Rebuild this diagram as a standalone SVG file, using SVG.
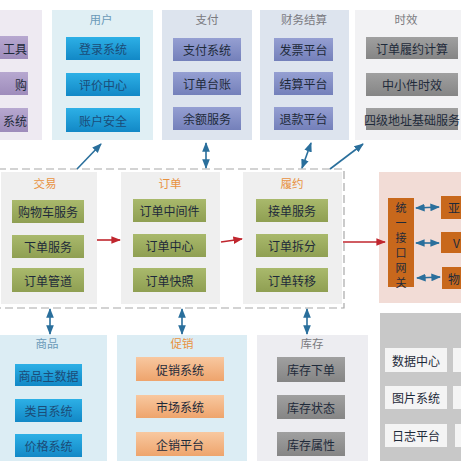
<svg xmlns="http://www.w3.org/2000/svg" width="461" height="461" viewBox="0 0 461 461">
<defs>
<linearGradient id="gBlue" x1="0" y1="0" x2="0" y2="1"><stop offset="0" stop-color="#2db0e6"/><stop offset="1" stop-color="#1288c6"/></linearGradient>
<linearGradient id="gPeri" x1="0" y1="0" x2="0" y2="1"><stop offset="0" stop-color="#959fd2"/><stop offset="1" stop-color="#7480ba"/></linearGradient>
<linearGradient id="gGray" x1="0" y1="0" x2="0" y2="1"><stop offset="0" stop-color="#a0a0a0"/><stop offset="1" stop-color="#858585"/></linearGradient>
<linearGradient id="gOlive" x1="0" y1="0" x2="0" y2="1"><stop offset="0" stop-color="#a9b96c"/><stop offset="1" stop-color="#8f9f52"/></linearGradient>
<linearGradient id="gPeach" x1="0" y1="0" x2="0" y2="1"><stop offset="0" stop-color="#f8c8a0"/><stop offset="1" stop-color="#eea46c"/></linearGradient>
<linearGradient id="gPurple" x1="0" y1="0" x2="0" y2="1"><stop offset="0" stop-color="#b7a8d0"/><stop offset="1" stop-color="#9e8cbb"/></linearGradient>
<marker id="aBlue" viewBox="0 0 10 10" refX="9" refY="5" markerWidth="6" markerHeight="6" orient="auto-start-reverse"><path d="M0,1 L10,5 L0,9 Z" fill="#2a6f9c"/></marker>
<marker id="aRed" viewBox="0 0 10 10" refX="9" refY="5" markerWidth="6" markerHeight="6" orient="auto"><path d="M0,1 L10,5 L0,9 Z" fill="#c0262e"/></marker>
</defs>
<style>
text{font-family:"Noto Sans CJK SC","Noto Sans",sans-serif;font-size:12px;text-anchor:middle;dominant-baseline:central}
.title{font-size:11.5px}
.tb{fill:#6a9ab8}
.tg{fill:#7a7a80}
.to{fill:#e8923f}
.it{fill:#1e2a3a}
.itb{fill:#1b4c78}
.vt{font-size:11px}
.blue{stroke:#2a6f9c;stroke-width:1.6;fill:none}
.red{stroke:#c0262e;stroke-width:1.6;fill:none}
</style>
<rect width="461" height="461" fill="#ffffff"/>

<g id="left-top">
<rect x="-5" y="10" width="47" height="130" fill="#eeeaf2"/>
<rect x="-5" y="36" width="33" height="23" fill="url(#gPurple)"/>
<rect x="-5" y="72" width="33" height="23" fill="url(#gPurple)"/>
<rect x="-5" y="108" width="33" height="24" fill="url(#gPurple)"/>
<text class="it" x="27" y="48" style="text-anchor:end">工具</text>
<text class="it" x="27" y="84" style="text-anchor:end">购</text>
<text class="it" x="27" y="120" style="text-anchor:end">系统</text>
</g>

<g id="user">
<rect x="52" y="10" width="101" height="130" fill="#e0eff4"/>
<text class="title tb" x="101" y="19">用户</text>
<rect x="66" y="37" width="74" height="23" fill="url(#gBlue)"/>
<rect x="66" y="73" width="74" height="23" fill="url(#gBlue)"/>
<rect x="66" y="108" width="74" height="24" fill="url(#gBlue)"/>
<text class="itb" x="103" y="48.5">登录系统</text>
<text class="itb" x="103" y="84.5">评价中心</text>
<text class="itb" x="103" y="120">账户安全</text>
</g>

<g id="pay">
<rect x="162" y="10" width="90" height="130" fill="#dde4ee"/>
<text class="title tg" x="207" y="19">支付</text>
<rect x="173" y="38" width="68" height="23" fill="url(#gPeri)"/>
<rect x="173" y="72" width="68" height="23" fill="url(#gPeri)"/>
<rect x="173" y="107" width="68" height="23" fill="url(#gPeri)"/>
<text class="it" x="207" y="49.5">支付系统</text>
<text class="it" x="207" y="83.5">订单台账</text>
<text class="it" x="207" y="118.5">余额服务</text>
</g>

<g id="finance">
<rect x="260" y="10" width="89" height="130" fill="#dde4ee"/>
<text class="title tg" x="304" y="19">财务结算</text>
<rect x="274" y="38" width="59" height="23" fill="url(#gPeri)"/>
<rect x="274" y="72" width="59" height="23" fill="url(#gPeri)"/>
<rect x="274" y="107" width="59" height="23" fill="url(#gPeri)"/>
<text class="it" x="303.5" y="49.5">发票平台</text>
<text class="it" x="303.5" y="83.5">结算平台</text>
<text class="it" x="303.5" y="118.5">退款平台</text>
</g>

<g id="timeliness">
<rect x="355" y="10" width="110" height="130" fill="#f2f2f4"/>
<text class="title tg" x="406" y="19">时效</text>
<rect x="366" y="37" width="92" height="22" fill="url(#gGray)"/>
<rect x="366" y="73" width="92" height="23" fill="url(#gGray)"/>
<rect x="366" y="108" width="92" height="22" fill="url(#gGray)"/>
<text class="it" x="412" y="48">订单履约计算</text>
<text class="it" x="412" y="84.5">中小件时效</text>
<text class="it" x="412" y="119">四级地址基础服务</text>
</g>

<rect x="-2" y="169" width="346" height="139" fill="none" stroke="#a8a8a8" stroke-width="1.2" stroke-dasharray="8,4"/>

<g id="trade">
<rect x="1" y="172" width="96" height="132" fill="#efefef"/>
<text class="title to" x="45" y="183">交易</text>
<rect x="12" y="200" width="72" height="23" fill="url(#gOlive)"/>
<rect x="12" y="235" width="72" height="23" fill="url(#gOlive)"/>
<rect x="12" y="268" width="72" height="24" fill="url(#gOlive)"/>
<text class="it" x="48" y="211.5">购物车服务</text>
<text class="it" x="48" y="246.5">下单服务</text>
<text class="it" x="48" y="280">订单管道</text>
</g>

<g id="order">
<rect x="121" y="172" width="99" height="132" fill="#efefef"/>
<text class="title to" x="170" y="183">订单</text>
<rect x="133" y="199" width="73" height="23" fill="url(#gOlive)"/>
<rect x="133" y="234" width="73" height="23" fill="url(#gOlive)"/>
<rect x="133" y="268" width="73" height="24" fill="url(#gOlive)"/>
<text class="it" x="169.5" y="210.5">订单中间件</text>
<text class="it" x="169.5" y="245.5">订单中心</text>
<text class="it" x="169.5" y="280">订单快照</text>
</g>

<g id="fulfil">
<rect x="243" y="172" width="99" height="132" fill="#efefef"/>
<text class="title to" x="292" y="183">履约</text>
<rect x="256" y="199" width="72" height="23" fill="url(#gOlive)"/>
<rect x="256" y="234" width="72" height="23" fill="url(#gOlive)"/>
<rect x="256" y="268" width="72" height="24" fill="url(#gOlive)"/>
<text class="it" x="292" y="210.5">接单服务</text>
<text class="it" x="292" y="245.5">订单拆分</text>
<text class="it" x="292" y="280">订单转移</text>
</g>

<g id="gateway-panel">
<rect x="379" y="172" width="86" height="131" fill="#f2dcd6"/>
<rect x="388" y="198" width="26" height="89" fill="#c8681c"/>
<text class="it vt" x="401" y="207">统</text>
<text class="it vt" x="401" y="222">一</text>
<text class="it vt" x="401" y="237">接</text>
<text class="it vt" x="401" y="252">口</text>
<text class="it vt" x="401" y="267">网</text>
<text class="it vt" x="401" y="282">关</text>
<rect x="441" y="196" width="24" height="23" fill="#c8681c"/>
<rect x="441" y="232" width="24" height="21" fill="#c8681c"/>
<rect x="442" y="267" width="23" height="22" fill="#c8681c"/>
<text class="it" x="448" y="207.5" style="text-anchor:start;">亚</text>
<text class="it" x="453" y="242.5" style="text-anchor:start;">V</text>
<text class="it" x="448" y="278" style="text-anchor:start;">物</text>
</g>

<g id="goods">
<rect x="-5" y="335" width="112" height="130" fill="#dcedf4"/>
<text class="title tb" x="47" y="343">商品</text>
<rect x="15" y="364" width="67" height="22" fill="url(#gBlue)"/>
<rect x="15" y="399" width="67" height="23" fill="url(#gBlue)"/>
<rect x="15" y="434" width="67" height="23" fill="url(#gBlue)"/>
<text class="itb" x="48.5" y="375">商品主数据</text>
<text class="itb" x="48.5" y="410.5">类目系统</text>
<text class="itb" x="48.5" y="445.5">价格系统</text>
</g>

<g id="promo">
<rect x="117" y="335" width="130" height="130" fill="#dcedf4"/>
<text class="title to" x="182" y="343">促销</text>
<rect x="136" y="357" width="88" height="24" fill="url(#gPeach)"/>
<rect x="136" y="395" width="88" height="23" fill="url(#gPeach)"/>
<rect x="136" y="432" width="88" height="24" fill="url(#gPeach)"/>
<text class="it" x="180" y="369">促销系统</text>
<text class="it" x="180" y="406.5">市场系统</text>
<text class="it" x="180" y="444">企销平台</text>
</g>

<g id="stock">
<rect x="257" y="335" width="111" height="130" fill="#ededf1"/>
<text class="title tg" x="312" y="343">库存</text>
<rect x="277" y="357" width="68" height="25" fill="url(#gGray)"/>
<rect x="277" y="395" width="68" height="24" fill="url(#gGray)"/>
<rect x="277" y="432" width="68" height="24" fill="url(#gGray)"/>
<text class="it" x="311" y="369.5">库存下单</text>
<text class="it" x="311" y="407">库存状态</text>
<text class="it" x="311" y="444">库存属性</text>
</g>

<g id="infra">
<rect x="380" y="313" width="85" height="152" fill="#c8c8c8"/>
<rect x="385" y="348" width="62" height="24" fill="#f4f4f4"/>
<rect x="385" y="386" width="62" height="23" fill="#f4f4f4"/>
<rect x="385" y="424" width="62" height="23" fill="#f4f4f4"/>
<rect x="453" y="348" width="12" height="24" fill="#f4f4f4"/>
<rect x="453" y="386" width="12" height="23" fill="#f4f4f4"/>
<rect x="455" y="424" width="10" height="23" fill="#f4f4f4"/>
<text class="it" x="416" y="360">数据中心</text>
<text class="it" x="416" y="397.5">图片系统</text>
<text class="it" x="416" y="435.5">日志平台</text>
</g>

<g id="connectors">
<line class="blue" x1="77" y1="169" x2="101" y2="144" marker-end="url(#aBlue)"/>
<line class="blue" x1="206" y1="168" x2="206" y2="143" marker-start="url(#aBlue)" marker-end="url(#aBlue)"/>
<line class="blue" x1="302" y1="168" x2="311" y2="143" marker-start="url(#aBlue)" marker-end="url(#aBlue)"/>
<line class="blue" x1="330" y1="169" x2="363" y2="144" marker-end="url(#aBlue)"/>
<line class="red" x1="97" y1="240" x2="120" y2="240" marker-end="url(#aRed)"/>
<line class="red" x1="221" y1="242" x2="242" y2="239" marker-end="url(#aRed)"/>
<line class="red" x1="343" y1="242" x2="385" y2="242" marker-end="url(#aRed)"/>
<line class="blue" x1="416" y1="208" x2="439" y2="207" marker-start="url(#aBlue)" marker-end="url(#aBlue)"/>
<line class="blue" x1="416" y1="243" x2="439" y2="243" marker-start="url(#aBlue)" marker-end="url(#aBlue)"/>
<line class="blue" x1="417" y1="278" x2="440" y2="277" marker-start="url(#aBlue)" marker-end="url(#aBlue)"/>
<line class="blue" x1="50" y1="309" x2="50" y2="334" marker-start="url(#aBlue)" marker-end="url(#aBlue)"/>
<line class="blue" x1="182" y1="309" x2="182" y2="334" marker-start="url(#aBlue)" marker-end="url(#aBlue)"/>
<line class="blue" x1="307" y1="309" x2="307" y2="334" marker-start="url(#aBlue)" marker-end="url(#aBlue)"/>
</g>
</svg>
